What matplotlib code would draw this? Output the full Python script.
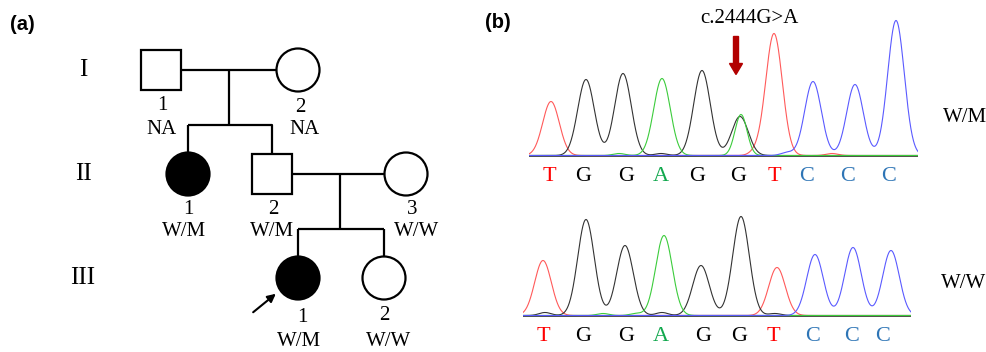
import numpy as np
import matplotlib.pyplot as plt
from matplotlib.patches import Circle, Rectangle

plt.rcParams['font.family'] = ['Liberation Serif', 'DejaVu Serif']

# ---- (a) pedigree ----
gen_labels = ["I", "II", "III"]
ped_sex = ["M", "F", "F", "M", "F", "F", "F"]
ped_affected = [False, False, True, False, False, True, False]
ped_num = ["1", "2", "1", "2", "3", "1", "2"]
ped_geno = ["NA", "NA", "W/M", "W/M", "W/W", "W/M", "W/W"]

# ---- (b) chromatogram ----
bases = ["T", "G", "G", "A", "G", "G", "T", "C", "C", "C"]
mutation_label = "c.2444G>A"
sample_labels = ["W/M", "W/W"]

# peak positions (scan) and heights for each trace
top_peak_pos = [22, 57, 94, 133, 173, 211, 245, 284, 326, 367]
top_peak_height = [54, 76, 82, 77, 85, 39, 122, 74, 71, 135]
top_call_pos = [20, 54, 97, 132, 168, 209, 245, 278, 319, 360]
# secondary (mutant A) peak at the heterozygous site + baseline noise
top_extra_base = ["A", "T", "C", "T", "A", "G"]
top_extra_pos = [212, 226, 258, 303, 90, 132]
top_extra_height = [41, 3, 3, 2, 2, 2]

bot_peak_pos = [20, 63, 102, 141, 178, 218, 254, 292, 330, 368]
bot_peak_height = [55, 96, 70, 80, 50, 99, 48, 61, 68, 65]
bot_call_pos = [20, 60, 103, 138, 180, 216, 250, 290, 329, 360]
bot_extra_base = ["G", "G", "A", "A", "G"]
bot_extra_pos = [22, 139, 80, 113, 252]
bot_extra_height = [3, 3, 2, 2, 2]

trace_colors = {"T": "#ff5a5a", "G": "#333333", "A": "#3ccc3c", "C": "#5a5aff"}
call_colors = {"T": "#ff0000", "G": "#000000", "A": "#12a84e", "C": "#2e75b6"}

W, H = 987, 352
fig = plt.figure(figsize=(W / 100, H / 100), dpi=100)

# pedigree drawn in a pixel-scaled axes
ax = fig.add_axes([0, 0, 493 / W, 1])
ax.set_xlim(0, 493)
ax.set_ylim(H, 0)
ax.axis("off")

gen_y = [70, 174, 278]
ped_x = [161, 298, 188, 272, 406, 298, 384]
ped_gen = [0, 0, 1, 1, 1, 2, 2]
num_xy = [(162, 106), (300, 108), (188, 209), (273, 209), (412, 210), (302, 318), (384, 315)]
geno_xy = [(162, 129), (305, 129), (184, 231), (272, 231), (417, 232), (299, 342), (389, 342)]
r = 21.5
lw = 1.6

for g, lab in enumerate(gen_labels):
    ax.text(83, gen_y[g], lab, fontsize=18, ha="center", va="center")

for i in range(len(ped_sex)):
    x, y = ped_x[i], gen_y[ped_gen[i]]
    fc = "black" if ped_affected[i] else "white"
    if ped_sex[i] == "M":
        ax.add_patch(Rectangle((x - 20, y - 20), 40, 40, fc=fc, ec="black", lw=lw, zorder=3))
    else:
        ax.add_patch(Circle((x, y), r, fc=fc, ec="black", lw=lw, zorder=3))
    ax.text(*num_xy[i], ped_num[i], fontsize=15, ha="center", va="center")
    ax.text(*geno_xy[i], ped_geno[i], fontsize=15, ha="center", va="center")

line_kw = dict(color="black", lw=lw, solid_capstyle="butt", zorder=2)
# generation I mating and sibship
ax.plot([181, 277], [70, 70], **line_kw)
ax.plot([229, 229], [70, 125], **line_kw)
ax.plot([188, 272, 272], [125, 125, 154], **line_kw)
ax.plot([188, 188], [125, 153], **line_kw)
# generation II mating and sibship
ax.plot([292, 385], [174, 174], **line_kw)
ax.plot([340, 340], [174, 229], **line_kw)
ax.plot([298, 384], [229, 229], **line_kw)
ax.plot([298, 298], [229, 257], **line_kw)
ax.plot([384, 384], [229, 257], **line_kw)
# proband arrow
ax.annotate("", xy=(278, 292), xytext=(251, 314),
            arrowprops=dict(arrowstyle="-|>", color="black", lw=1.5, mutation_scale=12))

fig.text(10 / W, 1 - 25 / H, "(a)", fontsize=14.5, fontweight="bold",
         family="Liberation Sans", va="center")
fig.text(485 / W, 1 - 23 / H, "(b)", fontsize=14.5, fontweight="bold",
         family="Liberation Sans", va="center")


def trace(axc, pos, height, extra_base, extra_pos, extra_h, width, call_pos):
    xs = np.linspace(0, width, 1200)
    sig = 8.3
    curves = {b: np.zeros_like(xs) for b in "TGAC"}
    for b, p, h in zip(bases, pos, height):
        curves[b] += h * np.exp(-0.5 * ((xs - p) / sig) ** 2)
    for b, p, h in zip(extra_base, extra_pos, extra_h):
        curves[b] += h * np.exp(-0.5 * ((xs - p) / 6) ** 2)
    for b in "TGAC":
        axc.plot(xs, curves[b], color=trace_colors[b], lw=0.8)
    axc.plot([0, width], [-1.2, -1.2], color="#cccccc", lw=1.5, zorder=0)
    axc.plot([0, width], [0, 0], color="#444444", lw=1.3, zorder=0)
    for b, p in zip(bases, call_pos):
        axc.text(p, -21, b, color=call_colors[b], fontsize=16,
                 ha="center", va="center", clip_on=False)
    axc.set_xlim(0, width)
    axc.set_ylim(-1.5, 140)
    axc.axis("off")


# top chromatogram (heterozygous)
ax_t = fig.add_axes([529 / W, 1 - 157 / H, 389 / W, 141.5 / H])
trace(ax_t, top_peak_pos, top_peak_height, top_extra_base, top_extra_pos,
      top_extra_height, 389, top_call_pos)
ax_t.arrow(207, 119, 0, -38, width=5, head_width=13, head_length=11,
           length_includes_head=True, color="#b20000", clip_on=False)
ax_t.text(220, 137, mutation_label, fontsize=15, ha="center", va="center", clip_on=False)

# bottom chromatogram (wild type)
ax_b = fig.add_axes([523 / W, 1 - 317 / H, 388 / W, 141.5 / H])
trace(ax_b, bot_peak_pos, bot_peak_height, bot_extra_base, bot_extra_pos,
      bot_extra_height, 388, bot_call_pos)

fig.text(965 / W, 1 - 118 / H, sample_labels[0], fontsize=15, ha="center", va="center")
fig.text(964 / W, 1 - 283 / H, sample_labels[1], fontsize=15, ha="center", va="center")

fig.savefig("out.png", dpi=100)
